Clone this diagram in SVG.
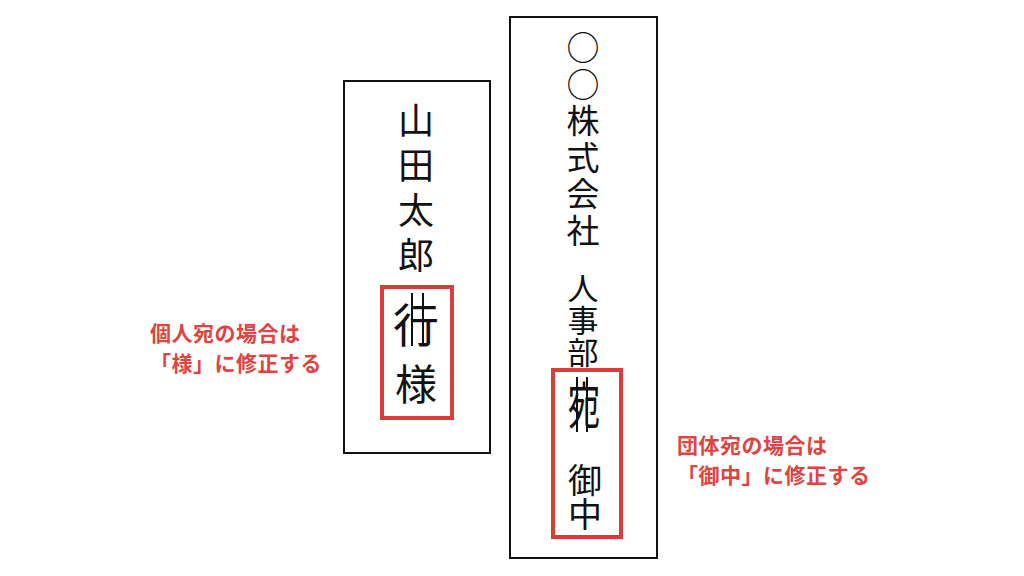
<svg xmlns="http://www.w3.org/2000/svg" width="1024" height="576" viewBox="0 0 1024 576">
<style>
.env{fill:#fff;stroke:#111;stroke-width:2}
.mark{fill:none;stroke:#DC3C37;stroke-width:4}
.v{font-family:"Noto Sans CJK JP","Noto Sans CJK SC",sans-serif;fill:#111;text-anchor:middle}
.col{font-family:"Noto Sans CJK JP","Noto Sans CJK SC",sans-serif;fill:#111;writing-mode:vertical-rl;text-orientation:upright;text-anchor:start}
.strike{stroke:#111;stroke-width:2}
.note{font-family:"Noto Sans CJK JP","Noto Sans CJK SC",sans-serif;font-weight:700;font-size:21px;letter-spacing:0.5px;fill:#DF4440}
</style>
<rect width="1024" height="576" fill="#fff"/>
<g id="envelope-personal">
<rect class="env" x="344" y="81" width="146" height="372"/>
<text class="col" font-size="36" letter-spacing="9" x="416" y="102">山田太郎</text>
<rect class="mark" x="382" y="287" width="70" height="131"/>
<text class="v" font-size="46" x="416" y="342">行</text>
<line class="strike" x1="412" y1="293" x2="412" y2="346"/>
<line class="strike" x1="423" y1="293" x2="423" y2="346"/>
<text class="v" font-size="42" x="416" y="400">様</text>
</g>
<g id="envelope-group">
<rect class="env" x="510" y="17" width="147" height="541"/>
<text class="col" font-size="33" letter-spacing="3.5" x="583" y="31">○○株式会社</text>
<text class="col" font-size="31" letter-spacing="1" x="583" y="273">人事部</text>
<rect class="mark" x="553" y="370" width="68" height="167"/>
<text class="v" font-size="50" transform="translate(584 424) scale(0.65 1)">宛</text>
<line class="strike" x1="577" y1="377" x2="577" y2="432"/>
<line class="strike" x1="587" y1="377" x2="587" y2="432"/>
<text class="col" font-size="34" x="585" y="463">御中</text>
</g>
<g id="note-personal">
<text class="note" x="150" y="341">個人宛の場合は</text>
<text class="note" x="150" y="371">「様」に修正する</text>
</g>
<g id="note-group">
<text class="note" x="677" y="453">団体宛の場合は</text>
<text class="note" x="677" y="483">「御中」に修正する</text>
</g>
<g id="connectors"></g>
</svg>
